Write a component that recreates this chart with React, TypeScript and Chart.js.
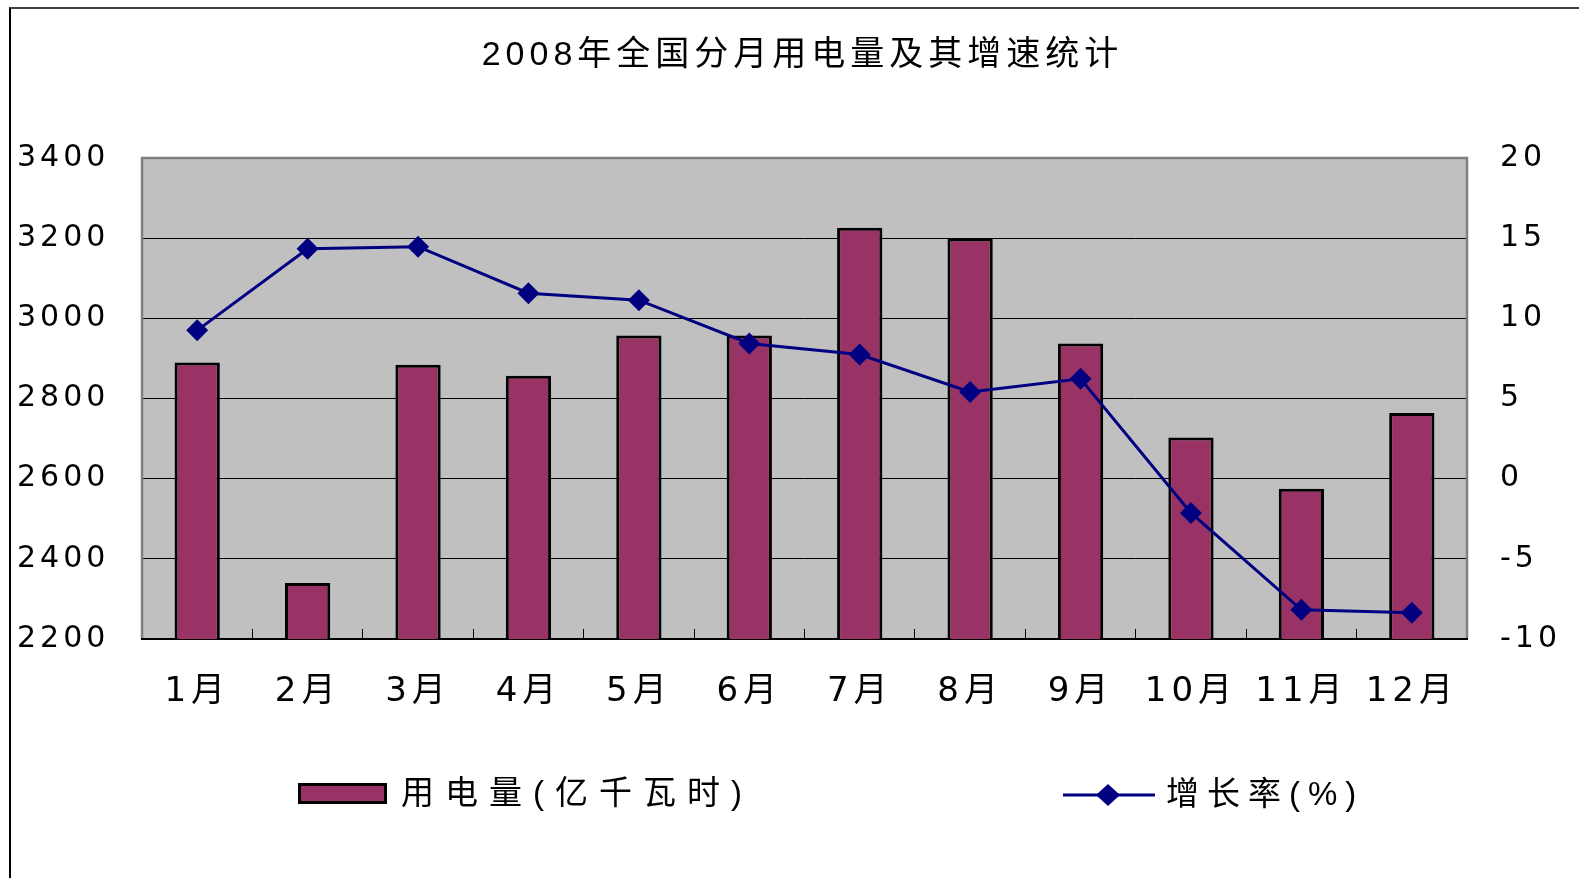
import React, { useEffect, useRef } from 'react';
import { Chart, registerables } from 'chart.js';

Chart.register(...registerables);

const chartTitle = '2008年全国分月用电量及其增速统计';
const months = ['1月', '2月', '3月', '4月', '5月', '6月', '7月', '8月', '9月', '10月', '11月', '12月'];
const consumptionLabel = '用电量(亿千瓦时)';
const consumption = [2890, 2340, 2884, 2857, 2957, 2957, 3226, 3199, 2937, 2703, 2575, 2764];
const growthLabel = '增长率(%)';
const growth = [9.25, 14.34, 14.47, 11.57, 11.13, 8.43, 7.74, 5.41, 6.23, -2.14, -8.18, -8.36];
const leftTickValues = [2200, 2400, 2600, 2800, 3000, 3200, 3400];
const rightTickValues = [-10, -5, 0, 5, 10, 15, 20];

const FONT = "'Liberation Sans','Noto Sans CJK SC',sans-serif";
const NUM_FONT = "'DejaVu Sans','Noto Sans CJK SC',sans-serif";
const BAR_COLOR = '#993366';
const LINE_COLOR = '#000080';

const decorPlugin = {
  id: 'decor',
  afterLayout(chart: any) {
    Object.values(chart.scales).forEach((s: any) => {
      if (s._lsPatched) return;
      const orig = s.drawLabels;
      const sp = s.axis === 'x' ? '5px' : '4px';
      s.drawLabels = function (area: any) {
        const ctx = this.ctx;
        ctx.save();
        ctx.letterSpacing = sp;
        orig.call(this, area);
        ctx.restore();
      };
      s._lsPatched = true;
    });
  },
  beforeDraw(chart: any) {
    const { ctx, chartArea } = chart;
    const { left, top, right, bottom } = chartArea;
    ctx.save();
    ctx.fillStyle = '#FFFFFF';
    ctx.fillRect(0, 0, chart.width, chart.height);
    ctx.fillStyle = '#C0C0C0';
    ctx.fillRect(left, top, right - left, bottom - top);
    ctx.restore();
  },
  beforeDatasetsDraw(chart: any) {
    const { ctx, chartArea } = chart;
    const { left, top, right, bottom } = chartArea;
    ctx.save();
    ctx.strokeStyle = '#808080';
    ctx.lineWidth = 2.5;
    ctx.beginPath();
    ctx.moveTo(left, bottom);
    ctx.lineTo(left, top);
    ctx.lineTo(right, top);
    ctx.lineTo(right, bottom);
    ctx.stroke();
    ctx.strokeStyle = '#000000';
    ctx.lineWidth = 2;
    ctx.beginPath();
    ctx.moveTo(left - 1, bottom);
    ctx.lineTo(right + 1, bottom);
    ctx.stroke();
    ctx.restore();
  },
  afterDraw(chart: any) {
    const { ctx } = chart;
    const ds = chart.data.datasets;
    ctx.save();
    // title
    ctx.font = `34px ${FONT}`;
    ctx.letterSpacing = '5px';
    ctx.fillStyle = '#000';
    ctx.textBaseline = 'middle';
    ctx.textAlign = 'left';
    const tw = ctx.measureText(chartTitle).width - 5;
    ctx.fillText(chartTitle, 800 - tw / 2, 56);

    // legend: bar
    ctx.fillStyle = ds[0].backgroundColor;
    ctx.fillRect(298, 783, 89, 21);
    ctx.strokeStyle = '#000';
    ctx.lineWidth = 3;
    ctx.strokeRect(299.5, 784.5, 86, 18);
    ctx.font = `33px ${FONT}`;
    ctx.letterSpacing = '11px';
    ctx.fillStyle = '#000';
    ctx.fillText(ds[0].label, 401, 795);

    // legend: line
    ctx.strokeStyle = ds[1].borderColor;
    ctx.lineWidth = 3;
    ctx.beginPath();
    ctx.moveTo(1063, 795);
    ctx.lineTo(1155, 795);
    ctx.stroke();
    ctx.fillStyle = ds[1].pointBackgroundColor;
    ctx.beginPath();
    ctx.moveTo(1108, 784);
    ctx.lineTo(1120, 795);
    ctx.lineTo(1108, 806);
    ctx.lineTo(1096, 795);
    ctx.closePath();
    ctx.fill();
    ctx.letterSpacing = '8px';
    ctx.fillStyle = '#000';
    ctx.fillText(ds[1].label, 1166, 796);
    ctx.restore();
  },
};

export default function App() {
  const canvasRef = useRef<HTMLCanvasElement | null>(null);

  useEffect(() => {
    const canvas = canvasRef.current;
    if (!canvas) return;
    const chart = new Chart(canvas, {
      type: 'bar',
      data: {
        labels: months,
        datasets: [
          {
            type: 'bar',
            label: consumptionLabel,
            data: consumption,
            backgroundColor: BAR_COLOR,
            borderColor: '#000000',
            borderWidth: 3,
            borderSkipped: false,
            barPercentage: 0.41,
            categoryPercentage: 1,
            yAxisID: 'y',
            order: 2,
          } as any,
          {
            type: 'line',
            label: growthLabel,
            data: growth,
            borderColor: LINE_COLOR,
            borderWidth: 3,
            tension: 0,
            pointStyle: 'rectRot',
            pointRadius: 11,
            pointBackgroundColor: LINE_COLOR,
            pointBorderColor: LINE_COLOR,
            pointBorderWidth: 0,
            yAxisID: 'y1',
            order: 1,
          } as any,
        ],
      },
      options: {
        responsive: false,
        animation: false,
        devicePixelRatio: 1,
        layout: { padding: { left: 17, top: 158, right: 0, bottom: 0 } },
        plugins: {
          legend: { display: false },
          title: { display: false },
          tooltip: { enabled: false },
        },
        scales: {
          x: {
            offset: true,
            grid: {
              offset: true,
              drawOnChartArea: false,
              drawTicks: true,
              tickLength: -10,
              color: '#000000',
              lineWidth: 1,
            },
            border: { display: false },
            ticks: {
              color: '#000',
              padding: 46,
              maxRotation: 0,
              autoSkip: false,
              font: { family: NUM_FONT, size: 34, lineHeight: 1 },
            },
            afterFit: (s: any) => {
              s.height = 239;
              s.paddingLeft = 0;
              s.paddingRight = 0;
            },
          },
          y: {
            position: 'left',
            min: 2200,
            max: 3400,
            grid: { color: '#000000', lineWidth: 1, drawTicks: false },
            border: { display: false },
            ticks: {
              color: '#000',
              crossAlign: 'far',
              padding: 10,
              font: { family: NUM_FONT, size: 30 },
              callback: (v: any) => String(v),
            },
            afterBuildTicks: (s: any) => {
              s.ticks = leftTickValues.map((v) => ({ value: v }));
            },
            afterFit: (s: any) => {
              s.width = 125;
              s.paddingTop = 0;
              s.paddingBottom = 0;
            },
          },
          y1: {
            position: 'right',
            min: -10,
            max: 20,
            grid: { display: false, drawTicks: false },
            border: { display: false },
            ticks: {
              color: '#000',
              crossAlign: 'near',
              padding: 33,
              font: { family: NUM_FONT, size: 30 },
              callback: (v: any) => String(v),
            },
            afterBuildTicks: (s: any) => {
              s.ticks = rightTickValues.map((v) => ({ value: v }));
            },
            afterFit: (s: any) => {
              s.width = 112;
              s.paddingTop = 0;
              s.paddingBottom = 0;
            },
          },
        },
      } as any,
      plugins: [decorPlugin as any],
    });
    return () => chart.destroy();
  }, []);

  return (
    <div
      style={{
        position: 'fixed',
        left: 0,
        top: 0,
        width: 1579,
        height: 878,
        overflow: 'hidden',
        background: '#fff',
      }}
    >
      <canvas
        ref={canvasRef}
        width={1579}
        height={878}
        style={{ position: 'absolute', left: 0, top: 0, width: 1579, height: 878 }}
      />
      <div
        style={{
          position: 'absolute',
          left: 9,
          top: 7,
          width: 1600,
          height: 900,
          borderLeft: '2px solid #000',
          borderTop: '2px solid #404040',
          pointerEvents: 'none',
        }}
      />
    </div>
  );
}
